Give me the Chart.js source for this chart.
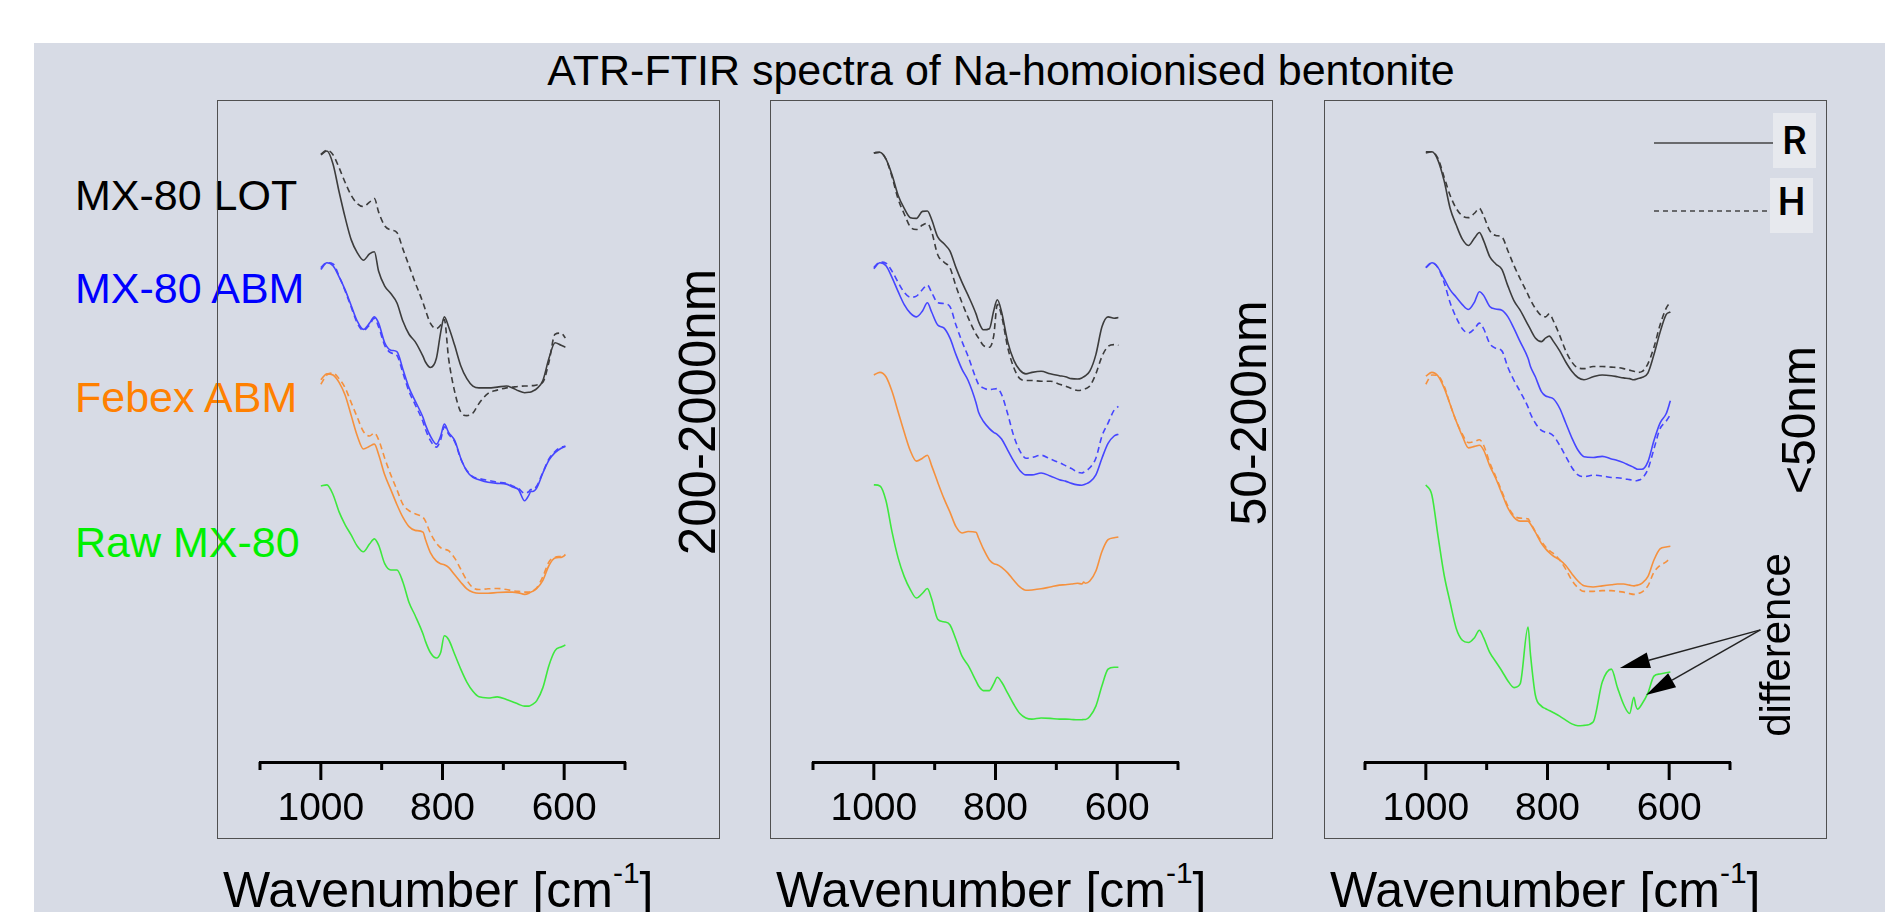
<!DOCTYPE html>
<html lang="en">
<head>
<meta charset="utf-8" />
<title>ATR-FTIR spectra of Na-homoionised bentonite</title>
<script src="https://cdn.jsdelivr.net/npm/chart.js@4.4.1/dist/chart.umd.min.js"></script>
<style>
  html,
  body {
    margin: 0;
    width: 1885px;
    height: 912px;
    overflow: hidden;
    background: #ffffff;
    font-family: "Liberation Sans", Arial, sans-serif;
  }
  .backdrop { position: absolute; left: 34px; top: 43px; right: 0; bottom: 0; background: #d7dbe5; }
  .label { position: absolute; line-height: 1; white-space: nowrap; }
  .vertical { position: absolute; line-height: 1; white-space: nowrap; transform: translate(-50%, -50%) rotate(-90deg); }
  .panel { position: absolute; top: 100px; width: 503px; height: 739px; }
  .panel canvas { position: absolute; left: 0; top: 0; }
  .frame { position: absolute; inset: 0; border: 1.5px solid #505050; box-sizing: border-box; pointer-events: none; }
  .key { position: absolute; width: 43px; height: 55px; box-sizing: border-box; background: #e7e9ee; text-align: center; font-family: Roboto, sans-serif; font-weight: 500; font-size: 39px; line-height: 1; }
  .sup { font-size: 30px; position: relative; top: -24px; }
</style>
</head>
<body>
<div class="backdrop"></div>

<div class="label" style="left: 1001px; top: 49px; font-size: 43px; transform: translateX(-50%)">ATR-FTIR spectra of Na-homoionised bentonite</div>

<div class="label" style="left: 75px; top: 174px; font-size: 43px; color: #000000">MX-80 LOT</div>
<div class="label" style="left: 75px; top: 267px; font-size: 43px; color: #0000ff">MX-80 ABM</div>
<div class="label" style="left: 75px; top: 376px; font-size: 43px; color: #ff8000">Febex ABM</div>
<div class="label" style="left: 75px; top: 521px; font-size: 43px; color: #00f000">Raw MX-80</div>

<div class="panel" style="left: 217px"><canvas id="panelA" width="503" height="739"></canvas><div class="frame"></div></div>
<div class="panel" style="left: 770px"><canvas id="panelB" width="503" height="739"></canvas><div class="frame"></div></div>
<div class="panel" style="left: 1324px"><canvas id="panelC" width="503" height="739"></canvas><div class="frame"></div></div>

<div class="vertical" style="left: 697px; top: 412px; font-size: 51px">200-2000nm</div>
<div class="vertical" style="left: 1249px; top: 413px; font-size: 50px">50-200nm</div>
<div class="vertical" style="left: 1799px; top: 420px; font-size: 48px">&lt;50nm</div>
<div class="vertical" style="left: 1776px; top: 645px; font-size: 42px">difference</div>

<div class="key" style="left: 1773px; top: 113px; padding-top: 9px">R</div>
<div class="key" style="left: 1770px; top: 178px; padding-top: 5px">H</div>

<div class="label" style="left: 223px; top: 865px; font-size: 50px">Wavenumber [cm<span class="sup">-1</span>]</div>
<div class="label" style="left: 776px; top: 865px; font-size: 50px">Wavenumber [cm<span class="sup">-1</span>]</div>
<div class="label" style="left: 1330px; top: 865px; font-size: 50px">Wavenumber [cm<span class="sup">-1</span>]</div>

<script>
// wavenumber grid shared by every spectrum (cm-1)
const wavenumbers = [
  1000, 990, 980, 970, 960, 950, 940, 930, 920, 912,
  905, 895, 885, 875, 865, 855, 845, 832, 828, 820,
  810, 803, 797, 790, 780, 770, 760, 750, 740, 725,
  710, 695, 685, 675, 665, 658, 655, 652, 645, 635,
  625, 615, 605, 598,
];
const tickValues = [500, 600, 700, 800, 900, 1000, 1100];
const labelledTicks = [600, 800, 1000];

// absorbance, offset per sample (a.u. x 1000)
// 200-2000nm
const leftLotR = [1660, 1670, 1635, 1560, 1490, 1430, 1395, 1375, 1392, 1398, 1345, 1305, 1285, 1260, 1210, 1175, 1155, 1115, 1100, 1085, 1110, 1180, 1222, 1195, 1145, 1090, 1055, 1035, 1030, 1030, 1032, 1035, 1030, 1022, 1017, 1018, 1019, 1021, 1028, 1050, 1110, 1152, 1145, 1140];
const leftLotH = [1662, 1672, 1660, 1625, 1585, 1550, 1528, 1520, 1532, 1542, 1505, 1468, 1457, 1450, 1405, 1360, 1315, 1260, 1240, 1205, 1190, 1200, 1215, 1110, 1020, 965, 955, 962, 988, 1015, 1024, 1030, 1032, 1034, 1035, 1035, 1036, 1036, 1038, 1045, 1100, 1175, 1178, 1165];
const leftAbmR = [1350, 1368, 1360, 1330, 1295, 1252, 1210, 1188, 1205, 1222, 1205, 1152, 1132, 1128, 1080, 1030, 995, 950, 930, 900, 878, 900, 932, 910, 888, 840, 805, 788, 782, 775, 772, 770, 762, 755, 725, 740, 750, 750, 760, 800, 835, 855, 867, 872];
const leftAbmH = [1355, 1368, 1365, 1332, 1292, 1248, 1205, 1185, 1200, 1218, 1195, 1145, 1125, 1118, 1070, 1020, 985, 938, 918, 888, 870, 890, 925, 905, 885, 838, 807, 790, 785, 780, 775, 772, 765, 758, 745, 750, 755, 755, 765, 802, 838, 858, 870, 872];
const leftFebexR = [1052, 1068, 1065, 1045, 1010, 955, 900, 865, 872, 878, 850, 795, 755, 715, 680, 655, 645, 640, 620, 585, 562, 555, 552, 545, 525, 505, 487, 478, 475, 475, 477, 478, 478, 476, 472, 475, 478, 480, 488, 510, 550, 570, 572, 578];
const leftFebexH = [1040, 1065, 1070, 1055, 1030, 990, 950, 912, 900, 908, 890, 840, 795, 755, 715, 698, 690, 680, 670, 638, 610, 598, 594, 590, 570, 540, 510, 490, 485, 487, 488, 485, 482, 480, 478, 478, 480, 482, 490, 520, 560, 572, 575, 580];
const leftRaw = [765, 768, 742, 695, 660, 632, 602, 587, 608, 622, 605, 555, 538, 538, 505, 450, 415, 365, 345, 315, 300, 315, 360, 350, 310, 270, 235, 210, 195, 192, 195, 188, 182, 175, 170, 170, 172, 175, 185, 220, 280, 320, 330, 335];

// 50-200nm
const midLotR = [1665, 1667, 1648, 1605, 1550, 1515, 1490, 1488, 1507, 1508, 1485, 1438, 1420, 1400, 1355, 1315, 1280, 1230, 1210, 1187, 1190, 1238, 1268, 1235, 1155, 1105, 1078, 1068, 1072, 1075, 1068, 1063, 1060, 1055, 1054, 1057, 1060, 1063, 1075, 1120, 1195, 1222, 1218, 1220];
const midLotH = [1665, 1667, 1648, 1600, 1540, 1500, 1465, 1458, 1470, 1475, 1452, 1390, 1370, 1355, 1305, 1260, 1220, 1175, 1165, 1145, 1140, 1170, 1255, 1225, 1140, 1085, 1055, 1050, 1050, 1048, 1048, 1040, 1035, 1028, 1023, 1024, 1026, 1028, 1035, 1068, 1115, 1142, 1147, 1145];
const midAbmR = [1352, 1368, 1360, 1328, 1290, 1255, 1232, 1222, 1238, 1260, 1235, 1200, 1192, 1165, 1120, 1080, 1050, 990, 965, 940, 920, 910, 904, 892, 862, 832, 807, 795, 795, 800, 792, 782, 778, 772, 768, 767, 768, 770, 776, 795, 840, 880, 900, 905];
const midAbmH = [1355, 1370, 1367, 1345, 1315, 1288, 1275, 1278, 1296, 1308, 1288, 1260, 1258, 1250, 1200, 1155, 1115, 1055, 1040, 1030, 1025, 1027, 1028, 1012, 960, 900, 860, 840, 842, 848, 838, 828, 820, 812, 802, 800, 802, 805, 814, 840, 900, 935, 970, 980];
const midFebex = [1065, 1072, 1060, 1020, 965, 910, 860, 832, 840, 848, 820, 775, 732, 695, 655, 638, 642, 640, 625, 595, 565, 555, 552, 545, 530, 510, 492, 483, 484, 487, 492, 497, 498, 500, 502, 500, 505, 502, 508, 535, 588, 620, 625, 627];
const midRaw = [768, 765, 725, 640, 570, 520, 485, 462, 475, 488, 460, 405, 398, 390, 350, 305, 280, 238, 225, 212, 212, 230, 248, 235, 205, 175, 150, 138, 135, 138, 137, 135, 135, 134, 133, 133, 134, 134, 142, 170, 225, 270, 275, 275];

// <50nm
const rightLotR = [1668, 1668, 1645, 1590, 1515, 1470, 1432, 1415, 1435, 1450, 1428, 1385, 1365, 1350, 1305, 1265, 1240, 1200, 1188, 1165, 1155, 1165, 1170, 1155, 1130, 1100, 1075, 1058, 1052, 1060, 1065, 1063, 1060, 1057, 1055, 1052, 1053, 1055, 1058, 1070, 1120, 1180, 1228, 1235];
const rightLotH = [1665, 1668, 1650, 1600, 1550, 1515, 1495, 1490, 1502, 1515, 1495, 1455, 1442, 1438, 1400, 1360, 1325, 1282, 1268, 1245, 1225, 1222, 1230, 1210, 1172, 1130, 1100, 1084, 1082, 1088, 1088, 1086, 1085, 1082, 1078, 1075, 1073, 1072, 1074, 1095, 1140, 1200, 1245, 1262];
const rightAbmR = [1355, 1368, 1355, 1325, 1295, 1275, 1255, 1242, 1262, 1290, 1280, 1250, 1243, 1240, 1222, 1190, 1155, 1110, 1088, 1060, 1020, 1008, 1005, 1000, 975, 935, 895, 862, 844, 842, 845, 838, 834, 828, 820, 815, 812, 810, 810, 830, 888, 935, 960, 995];
const rightAbmH = [1355, 1368, 1355, 1315, 1260, 1220, 1190, 1178, 1190, 1205, 1190, 1150, 1137, 1130, 1085, 1050, 1020, 978, 960, 935, 915, 910, 908, 900, 875, 845, 815, 795, 790, 794, 792, 788, 787, 785, 782, 780, 779, 780, 785, 810, 865, 920, 940, 958];
const rightFebexR = [1062, 1072, 1062, 1030, 985, 940, 900, 868, 872, 875, 862, 820, 785, 745, 705, 680, 670, 670, 662, 640, 610, 595, 585, 575, 565, 550, 528, 508, 495, 492, 495, 498, 500, 500, 497, 495, 496, 497, 502, 520, 565, 595, 600, 602];
const rightFebexH = [1040, 1065, 1063, 1035, 985, 940, 905, 882, 885, 890, 875, 828, 790, 750, 710, 685, 678, 676, 665, 642, 615, 600, 590, 582, 565, 540, 510, 490, 480, 480, 482, 482, 480, 478, 474, 472, 472, 474, 478, 495, 532, 550, 560, 570];
const rightRaw = [768, 740, 630, 525, 450, 380, 348, 342, 355, 375, 355, 315, 290, 265, 238, 220, 230, 384, 310, 200, 170, 163, 158, 152, 143, 132, 122, 117, 118, 127, 235, 270, 220, 175, 150, 194, 172, 162, 175, 205, 251, 257, 260, 262];

// arrows pointing at the extra bands of raw MX-80 (<50nm)
const arrowFrom = [450, 376];
const arrowTips = [
  [681, 273],
  [638, 200],
];

const colours = {
  lot: "#3c3c3c",
  abm: "#4646ff",
  febex: "#f5913e",
  raw: "#3ee83e",
};

Chart.defaults.font.family = "'Liberation Sans', Arial, sans-serif";

function spectrum(values, colour, dashed) {
  return {
    data: values.map((v, i) => ({ x: wavenumbers[i], y: v })),
    borderColor: colour,
    borderWidth: 1.6,
    borderDash: dashed ? [6, 4] : [],
    pointRadius: 0,
    cubicInterpolationMode: "monotone",
    fill: false,
  };
}

const axisTicks = {
  id: "axisTicks",
  afterDraw(chart) {
    const { ctx, chartArea, scales } = chart;
    ctx.save();
    ctx.strokeStyle = "#000000";
    ctx.lineWidth = 3;
    tickValues.forEach((v) => {
      const px = scales.x.getPixelForValue(v);
      const len = labelledTicks.includes(v) ? 18 : 8;
      ctx.beginPath();
      ctx.moveTo(px, chartArea.bottom);
      ctx.lineTo(px, chartArea.bottom + len);
      ctx.stroke();
    });
    ctx.restore();
  },
};

const arrowsAndKey = {
  id: "arrowsAndKey",
  afterDraw(chart) {
    const { ctx, scales } = chart;
    const ox = scales.x.getPixelForValue(arrowFrom[0]);
    const oy = scales.y.getPixelForValue(arrowFrom[1]);
    ctx.save();
    ctx.strokeStyle = "#222222";
    ctx.fillStyle = "#000000";
    ctx.lineWidth = 1.5;
    arrowTips.forEach(([w, a]) => {
      const tx = scales.x.getPixelForValue(w);
      const ty = scales.y.getPixelForValue(a);
      const ang = Math.atan2(ty - oy, tx - ox);
      const bx = tx - 30 * Math.cos(ang);
      const by = ty - 30 * Math.sin(ang);
      ctx.beginPath();
      ctx.moveTo(ox, oy);
      ctx.lineTo(bx, by);
      ctx.stroke();
      ctx.beginPath();
      ctx.moveTo(tx, ty);
      ctx.lineTo(bx + 8 * Math.sin(ang), by - 8 * Math.cos(ang));
      ctx.lineTo(bx - 8 * Math.sin(ang), by + 8 * Math.cos(ang));
      ctx.closePath();
      ctx.fill();
    });

    // R / H key lines
    ctx.strokeStyle = "#444444";
    ctx.lineWidth = 1.5;
    ctx.beginPath();
    ctx.moveTo(330, 43);
    ctx.lineTo(449, 43);
    ctx.stroke();
    ctx.setLineDash([5, 4]);
    ctx.beginPath();
    ctx.moveTo(330, 111);
    ctx.lineTo(446, 111);
    ctx.stroke();
    ctx.restore();
  },
};

function drawPanel(id, datasets, padLeft, extra) {
  const plugins = [axisTicks];
  if (extra) plugins.push(extra);
  return new Chart(document.getElementById(id), {
    type: "line",
    data: { datasets },
    plugins,
    options: {
      responsive: false,
      animation: false,
      devicePixelRatio: 1,
      layout: { padding: { left: padLeft, right: 138 - padLeft, top: 0, bottom: 0 } },
      plugins: { legend: { display: false }, tooltip: { enabled: false } },
      scales: {
        x: {
          type: "linear",
          min: 500,
          max: 1100,
          reverse: true,
          afterBuildTicks: (scale) => {
            scale.ticks = tickValues.map((value) => ({ value }));
          },
          afterFit: (scale) => {
            scale.height = 77;
          },
          ticks: {
            callback: (v) => (labelledTicks.includes(v) ? String(v) : ""),
            font: { size: 39 },
            color: "#000000",
            padding: 24,
            maxRotation: 0,
            autoSkip: false,
          },
          grid: { display: false, drawTicks: false },
          border: { display: true, color: "#000000", width: 3 },
        },
        y: { display: false, min: 19, max: 1808 },
      },
    },
  });
}

drawPanel(
  "panelA",
  [
    spectrum(leftLotH, colours.lot, true),
    spectrum(leftLotR, colours.lot, false),
    spectrum(leftAbmH, colours.abm, true),
    spectrum(leftAbmR, colours.abm, false),
    spectrum(leftFebexH, colours.febex, true),
    spectrum(leftFebexR, colours.febex, false),
    spectrum(leftRaw, colours.raw, false),
  ],
  43
);

drawPanel(
  "panelB",
  [
    spectrum(midLotH, colours.lot, true),
    spectrum(midLotR, colours.lot, false),
    spectrum(midAbmH, colours.abm, true),
    spectrum(midAbmR, colours.abm, false),
    spectrum(midFebex, colours.febex, false),
    spectrum(midRaw, colours.raw, false),
  ],
  43
);

drawPanel(
  "panelC",
  [
    spectrum(rightLotH, colours.lot, true),
    spectrum(rightLotR, colours.lot, false),
    spectrum(rightAbmH, colours.abm, true),
    spectrum(rightAbmR, colours.abm, false),
    spectrum(rightFebexH, colours.febex, true),
    spectrum(rightFebexR, colours.febex, false),
    spectrum(rightRaw, colours.raw, false),
  ],
  41,
  arrowsAndKey
);
</script>
</body>
</html>
